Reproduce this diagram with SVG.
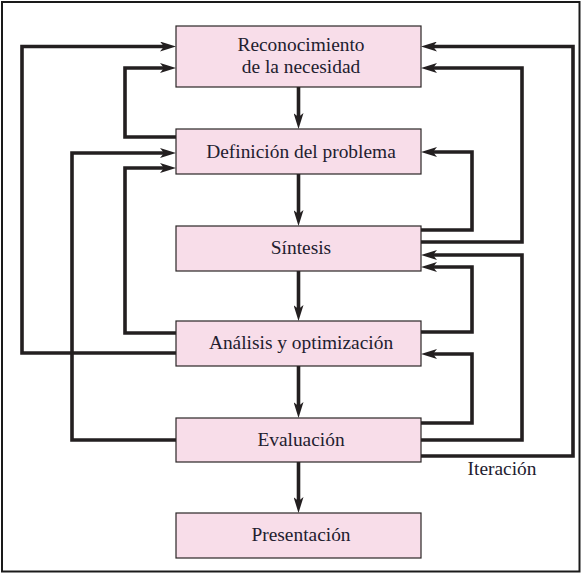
<svg xmlns="http://www.w3.org/2000/svg" width="587" height="574" viewBox="0 0 587 574">
  <style>
    .box { fill: #f8dde9; stroke: #2a2626; stroke-width: 1.2; }
    .label { font-family: "Liberation Serif", "Times New Roman", serif; font-size: 19.4px; fill: #23202f; text-anchor: middle; }
    .link { fill: none; stroke: #231f20; stroke-width: 3.6; stroke-linejoin: miter; stroke-linecap: butt; }
  </style>
  <defs>
    <marker id="head" markerUnits="userSpaceOnUse" viewBox="0 0 16 10" markerWidth="16" markerHeight="10" refX="4" refY="5" orient="auto">
      <path d="M0,0 L16,5 L0,10 L4,5 Z" fill="#231f20"/>
    </marker>
  </defs>

  <!-- outer frame -->
  <rect x="2" y="2" width="577.5" height="569.5" fill="#ffffff" stroke="#1a1a1a" stroke-width="2"/>

  <!-- feedback and flow connectors -->
  <g id="connectors" class="link" marker-end="url(#head)">
    <!-- main downward flow -->
    <path d="M298.5,87 V117"/>
    <path d="M298.5,174 V214"/>
    <path d="M298.5,271 V309"/>
    <path d="M298.5,366 V406"/>
    <path d="M298.5,462 V501"/>
    <!-- left-side loops -->
    <path d="M176,353 H22 V46.5 H164"/>
    <path d="M176,137 H125 V68 H164"/>
    <path d="M176,440 H72 V153 H164"/>
    <path d="M176,333 H125 V168 H164"/>
    <!-- right-side loops -->
    <path d="M421,456 H573 V46.5 H433"/>
    <path d="M421,242 H522 V68 H433"/>
    <path d="M421,230 H472 V152 H433"/>
    <path d="M421,440 H522 V255 H433"/>
    <path d="M421,332 H472 V267 H433"/>
    <path d="M421,423 H472 V354 H433"/>
  </g>

  <g id="reconocimiento">
    <rect class="box" x="176" y="26" width="245" height="61"/>
    <text class="label" x="301" y="50.5">Reconocimiento</text>
    <text class="label" x="301" y="72.5">de la necesidad</text>
  </g>
  <g id="definicion">
    <rect class="box" x="176" y="129" width="245" height="45"/>
    <text class="label" x="301" y="157.5">Definición del problema</text>
  </g>
  <g id="sintesis">
    <rect class="box" x="176" y="226" width="245" height="45"/>
    <text class="label" x="301" y="253.5">Síntesis</text>
  </g>
  <g id="analisis">
    <rect class="box" x="176" y="321" width="245" height="45"/>
    <text class="label" x="301" y="348.5">Análisis y optimización</text>
  </g>
  <g id="evaluacion">
    <rect class="box" x="176" y="418" width="245" height="44"/>
    <text class="label" x="301" y="445.5">Evaluación</text>
  </g>
  <g id="presentacion">
    <rect class="box" x="176" y="513" width="245" height="45"/>
    <text class="label" x="301" y="540.5">Presentación</text>
  </g>

  <text class="label" x="502" y="475">Iteración</text>
</svg>
